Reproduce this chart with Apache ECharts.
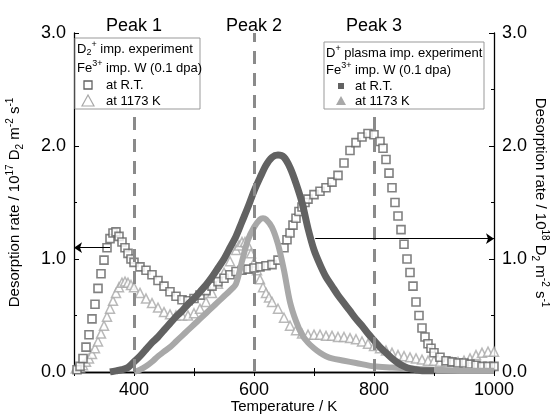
<!DOCTYPE html>
<html>
<head>
<meta charset="utf-8">
<script src="https://cdn.jsdelivr.net/npm/echarts@6/dist/echarts.min.js"></script>
<style>html,body{margin:0;padding:0;background:#fff;}#c{width:555px;height:414px;}</style>
</head>
<body>
<div id="c"></div>
<script>
// ---- Data ----
// D2+ implantation, Fe3+ imp. W, at R.T. (open squares, left axis, 1e17)
const tOpenRT = [305,310,315,320,325,330,335,340,345,350,355,360,365,370,375,380,385,390,395,400,410,420,430,440,450,460,470,480,490,500,510,520,530,540,550,560,570,580,590,600,610,620,630,640,650,655,660,665,670,675,680,685,690,700,710,720,730,740,750,760,770,780,790,800,810,815,820,825,830,835,840,845,850,855,860,865,870,875,880,885,890,895,900,910,920,930,940,950,960,970,980,990,1000];
const vOpenRT = [0.02,0.05,0.12,0.22,0.33,0.47,0.6,0.74,0.87,0.99,1.1,1.18,1.23,1.24,1.2,1.15,1.1,1.05,1.0,0.97,0.93,0.9,0.86,0.81,0.76,0.71,0.67,0.64,0.63,0.65,0.68,0.72,0.76,0.8,0.83,0.86,0.89,0.9,0.91,0.92,0.93,0.94,0.95,0.99,1.1,1.17,1.23,1.3,1.36,1.42,1.46,1.5,1.53,1.57,1.6,1.63,1.68,1.74,1.85,1.96,2.03,2.08,2.11,2.1,2.04,1.98,1.88,1.76,1.63,1.5,1.38,1.26,1.13,1.0,0.88,0.76,0.62,0.5,0.39,0.31,0.25,0.21,0.17,0.13,0.1,0.09,0.08,0.08,0.07,0.06,0.05,0.05,0.05];
// D2+ implantation, at 1173 K (open triangles, left axis)
const tOpenHT = [303,310,315,320,325,330,335,340,345,350,355,360,365,370,375,380,385,390,395,400,410,420,430,440,450,460,470,480,490,500,510,520,530,540,550,560,570,575,580,585,590,595,600,605,610,615,620,625,630,640,650,660,670,680,690,700,710,720,730,740,750,760,770,780,790,800,810,820,830,840,850,860,870,880,890,900,910,920,930,940,950,960,970,980,990,1000];
const vOpenHT = [0.03,0.04,0.06,0.09,0.12,0.16,0.21,0.27,0.34,0.41,0.49,0.56,0.63,0.7,0.75,0.79,0.8,0.79,0.77,0.75,0.7,0.65,0.61,0.57,0.53,0.51,0.5,0.5,0.5,0.52,0.56,0.62,0.7,0.78,0.88,0.98,1.08,1.12,1.15,1.15,1.12,1.05,0.97,0.9,0.82,0.75,0.7,0.66,0.62,0.56,0.48,0.41,0.37,0.34,0.33,0.33,0.33,0.32,0.32,0.31,0.31,0.3,0.29,0.27,0.25,0.23,0.21,0.19,0.17,0.15,0.14,0.13,0.12,0.11,0.1,0.1,0.09,0.09,0.09,0.09,0.1,0.12,0.15,0.17,0.18,0.18];
// D+ plasma implantation, at R.T. (filled squares, right axis, 1e18)
const tPlasRT = [360,370,380,390,400,410,420,430,440,450,460,470,480,490,500,510,520,530,540,550,560,570,580,590,600,610,620,630,640,650,660,670,680,690,700,710,720,730,740,750,760,770,780,790,800,810,820,830,840,850,860,870,880,900];
const vPlasRT = [0.0,0.01,0.02,0.04,0.09,0.14,0.2,0.26,0.31,0.37,0.43,0.49,0.54,0.6,0.65,0.71,0.77,0.84,0.92,1.0,1.1,1.2,1.33,1.46,1.6,1.72,1.83,1.9,1.92,1.9,1.81,1.67,1.5,1.27,1.08,0.95,0.84,0.76,0.68,0.61,0.54,0.47,0.41,0.34,0.28,0.22,0.17,0.12,0.08,0.05,0.03,0.02,0.01,0.01];
// D+ plasma implantation, at 1173 K (filled triangles, right axis)
const tPlasHT = [400,410,420,430,440,450,460,470,480,490,500,510,520,530,540,550,560,570,580,590,600,610,615,620,630,640,650,660,670,680,690,700,710,720,730,750,770,800,830,860,900,950,1000];
const vPlasHT = [0.0,0.02,0.05,0.09,0.14,0.18,0.22,0.27,0.32,0.37,0.42,0.47,0.52,0.57,0.62,0.67,0.72,0.78,0.98,1.17,1.28,1.35,1.36,1.35,1.28,1.13,0.9,0.62,0.45,0.33,0.26,0.21,0.17,0.14,0.12,0.1,0.08,0.05,0.04,0.03,0.02,0.01,0.01];
// Axis / annotation labels
const peakTicks = {400: 'Peak 1', 600: 'Peak 2', 800: 'Peak 3'};
const xLabelTicks = [400, 600, 800, 1000];
const peakLines = [400, 600, 800];

const pairs = (t, v) => t.map((x, i) => [x, v[i]]);
const FONT = '"Liberation Sans", Arial, sans-serif';
const DARK = '#626262', LIGHT = '#a8a8a8';

const chart = echarts.init(document.getElementById('c'), null, {renderer: 'canvas'});

const nameRich = {
  n: {fontSize: 15, fontFamily: FONT, color: '#000', lineHeight: 20},
  sup: {fontSize: 10, fontFamily: FONT, color: '#000', lineHeight: 11, verticalAlign: 'top'},
  sub: {fontSize: 10, fontFamily: FONT, color: '#000', lineHeight: 11, verticalAlign: 'bottom'}
};
const legRich = {
  n: {fontSize: 13, fontFamily: FONT, color: '#000', lineHeight: 17},
  sup: {fontSize: 9, fontFamily: FONT, color: '#000', lineHeight: 10, verticalAlign: 'top'},
  sub: {fontSize: 9, fontFamily: FONT, color: '#000', lineHeight: 10, verticalAlign: 'bottom'}
};

const yAxisCommon = {
  type: 'value', min: 0, max: 3, interval: 1,
  axisLine: {show: true, lineStyle: {color: '#000', width: 1.3}},
  axisTick: {show: true, inside: true, length: 5, lineStyle: {color: '#000'}},
  minorTick: {show: true, splitNumber: 2, length: 3, lineStyle: {color: '#000'}},
  splitLine: {show: false},
  axisLabel: {fontSize: 18, fontFamily: FONT, color: '#000', margin: 8, formatter: v => v.toFixed(1)},
  nameLocation: 'middle'
};

const option = {
  animation: false,
  backgroundColor: '#fff',
  grid: {left: 74, right: 61, top: 33, bottom: 42, outerBoundsMode: 'none', containLabel: false},
  xAxis: [{
    type: 'value', min: 300, max: 1000, interval: 100,
    axisLine: {lineStyle: {color: '#000', width: 1.3}},
    axisTick: {inside: true, length: 4, lineStyle: {color: '#000'}},
    splitLine: {show: false},
    axisLabel: {fontSize: 18, fontFamily: FONT, color: '#000', margin: 9,
      formatter: v => xLabelTicks.includes(v) ? String(v) : ''},
    name: 'Temperature / K', nameLocation: 'middle', nameGap: 27, nameMoveOverlap: false,
    nameTextStyle: {fontSize: 15, fontFamily: FONT, color: '#000'}
  }, {
    type: 'value', position: 'top', min: 300, max: 1000, interval: 100,
    axisLine: {lineStyle: {color: '#000', width: 1.3}},
    axisTick: {inside: true, length: 4, lineStyle: {color: '#000'}},
    splitLine: {show: false},
    axisLabel: {fontSize: 18, fontFamily: FONT, color: '#000', margin: -2,
      formatter: v => peakTicks[v] || ''}
  }],
  yAxis: [Object.assign({}, yAxisCommon, {
    position: 'left',
    name: '{n|Desorption rate / 10}{sup|17}{n| D}{sub|2}{n| m}{sup|-2}{n| s}{sup|-1}',
    nameGap: 49, nameMoveOverlap: false,
    nameTextStyle: {rich: nameRich}
  }), Object.assign({}, yAxisCommon, {
    position: 'right',
    name: '{n|Desorption rate / 10}{sup|18}{n| D}{sub|2}{n| m}{sup|-2}{n| s}{sup|-1}',
    nameGap: 36, nameRotate: -90, nameMoveOverlap: false,
    nameTextStyle: {rich: nameRich}
  })],
  series: [{
    name: 'D2+ 1173K', type: 'scatter', xAxisIndex: 0, yAxisIndex: 0,
    data: pairs(tOpenHT, vOpenHT),
    symbol: 'triangle', symbolSize: 9,
    itemStyle: {color: '#fff', borderColor: LIGHT, borderWidth: 1.5},
    markLine: {
      silent: true, symbol: 'none', label: {show: false},
      lineStyle: {type: [13, 9], color: '#8a8a8a', width: 3},
      data: [
        [{coord: [peakLines[0], 0]}, {coord: [peakLines[0], 2.27]}],
        [{coord: [peakLines[1], 0]}, {coord: [peakLines[1], 3]}],
        [{coord: [peakLines[2], 0]}, {coord: [peakLines[2], 2.27]}]
      ]
    }
  }, {
    name: 'D2+ RT', type: 'scatter', xAxisIndex: 0, yAxisIndex: 0,
    data: pairs(tOpenRT, vOpenRT),
    symbol: 'rect', symbolSize: 8,
    itemStyle: {color: '#fff', borderColor: DARK, borderWidth: 1.6},
    markLine: {
      silent: true, symbol: ['none', 'arrow'], symbolSize: 8, label: {show: false},
      lineStyle: {type: 'solid', color: '#000', width: 1.2},
      data: [[{coord: [360, 1.1]}, {coord: [300, 1.1]}]]
    }
  }, {
    name: 'D+ 1173K', type: 'line', xAxisIndex: 0, yAxisIndex: 1,
    data: pairs(tPlasHT, vPlasHT), smooth: 0.3,
    showSymbol: false, lineStyle: {color: LIGHT, width: 6}
  }, {
    name: 'D+ RT', type: 'line', xAxisIndex: 0, yAxisIndex: 1,
    data: pairs(tPlasRT, vPlasRT), smooth: 0.3,
    showSymbol: false, lineStyle: {color: DARK, width: 7},
    markLine: {
      silent: true, symbol: ['none', 'arrow'], symbolSize: 8, label: {show: false},
      lineStyle: {type: 'solid', color: '#000', width: 1.2},
      data: [[{coord: [702, 1.18]}, {coord: [1000, 1.18]}]]
    }
  }],
  graphic: [
    {type: 'rect', z: 100, shape: {x: 75, y: 38, width: 125, height: 71},
     style: {fill: '#fff', stroke: '#999', lineWidth: 1}},
    {type: 'text', z: 101, style: {x: 77, y: 49, verticalAlign: 'middle',
     text: '{n|D}{sub|2}{sup|+}{n| imp. experiment}', rich: legRich}},
    {type: 'text', z: 101, style: {x: 77, y: 68, verticalAlign: 'middle',
     text: '{n|Fe}{sup|3+}{n| imp. W (0.1 dpa)}', rich: legRich}},
    {type: 'rect', z: 101, shape: {x: 84, y: 81, width: 8, height: 8},
     style: {fill: '#fff', stroke: DARK, lineWidth: 1.3}},
    {type: 'text', z: 101, style: {x: 106, y: 85, verticalAlign: 'middle', text: '{n|at R.T.}', rich: legRich}},
    {type: 'polygon', z: 101, shape: {points: [[88, 95], [82, 106], [94, 106]]},
     style: {fill: '#fff', stroke: LIGHT, lineWidth: 1.2}},
    {type: 'text', z: 101, style: {x: 106, y: 101, verticalAlign: 'middle', text: '{n|at 1173 K}', rich: legRich}},

    {type: 'rect', z: 100, shape: {x: 324, y: 42, width: 160, height: 67},
     style: {fill: '#fff', stroke: '#999', lineWidth: 1}},
    {type: 'text', z: 101, style: {x: 326, y: 53, verticalAlign: 'middle',
     text: '{n|D}{sup|+}{n| plasma imp. experiment}', rich: legRich}},
    {type: 'text', z: 101, style: {x: 326, y: 70, verticalAlign: 'middle',
     text: '{n|Fe}{sup|3+}{n| imp. W (0.1 dpa)}', rich: legRich}},
    {type: 'rect', z: 101, shape: {x: 338, y: 83, width: 6, height: 6},
     style: {fill: DARK}},
    {type: 'text', z: 101, style: {x: 355, y: 86, verticalAlign: 'middle', text: '{n|at R.T.}', rich: legRich}},
    {type: 'polygon', z: 101, shape: {points: [[341, 96], [336, 105], [346, 105]]},
     style: {fill: LIGHT}},
    {type: 'text', z: 101, style: {x: 355, y: 101, verticalAlign: 'middle', text: '{n|at 1173 K}', rich: legRich}}
  ]
};
chart.setOption(option);
</script>
</body>
</html>
